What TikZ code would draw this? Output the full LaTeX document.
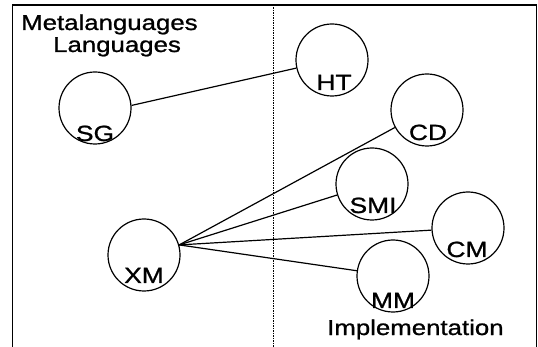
\documentclass[tikz,border=0pt]{standalone}
\usepackage{fontspec}
\setmainfont{Liberation Sans}[FakeStretch=1.2,FakeBold=1]
\begin{document}
\begin{tikzpicture}[x=1pt,y=-1pt,
  circ/.style={draw,circle,minimum size=72pt,inner sep=0pt,line width=1.2pt},
  lbl/.style={anchor=base,inner sep=0pt,font=\fontsize{22}{26}\selectfont},
  txt/.style={anchor=base west,inner sep=0pt,font=\fontsize{21.5}{25}\selectfont},
  conn/.style={line width=1.2pt}]
\useasboundingbox (0,0) rectangle (538,347);
% frame
\draw[line width=1.5pt] (12.5,350) -- (12.5,5) -- (536.5,5) -- (536.5,350);
\draw[line width=0.9pt,dash pattern=on 1.5pt off 1pt] (273,5) -- (273,350);
% circles
\node[circ] (SG) at (95,108) {};
\node[circ] (HT) at (332,60) {};
\node[circ] (CD) at (427,110) {};
\node[circ] (SMI) at (372,184) {};
\node[circ] (CM) at (468,228) {};
\node[circ] (MM) at (393,276) {};
\node[circ] (XM) at (144,255) {};
% labels
\node[lbl] (SGl) at (95,141) {SG};
\node[lbl] (HTl) at (334,90) {HT};
\node[lbl] (CDl) at (428,140) {CD};
\node[lbl] (SMIl) at (373,213) {SMI};
\node[lbl] (CMl) at (467,257) {CM};
\node[lbl] (MMl) at (393,308) {MM};
\node[lbl] (XMl) at (144,283) {XM};
% texts
\node[txt] (meta) at (21,30) {Metalanguages};
\node[txt] (lang) at (53,52) {Languages};
\node[txt] (impl) at (327,335) {Implementation};
% connectors
\coordinate (xo) at (XM.16);
\draw[conn] (SG.4) -- (HT);
\draw[conn] (xo) -- (CD);
\draw[conn] (xo) -- (SMI);
\draw[conn] (xo) -- (CM);
\draw[conn] (xo) -- (MM);
\end{tikzpicture}
\end{document}
